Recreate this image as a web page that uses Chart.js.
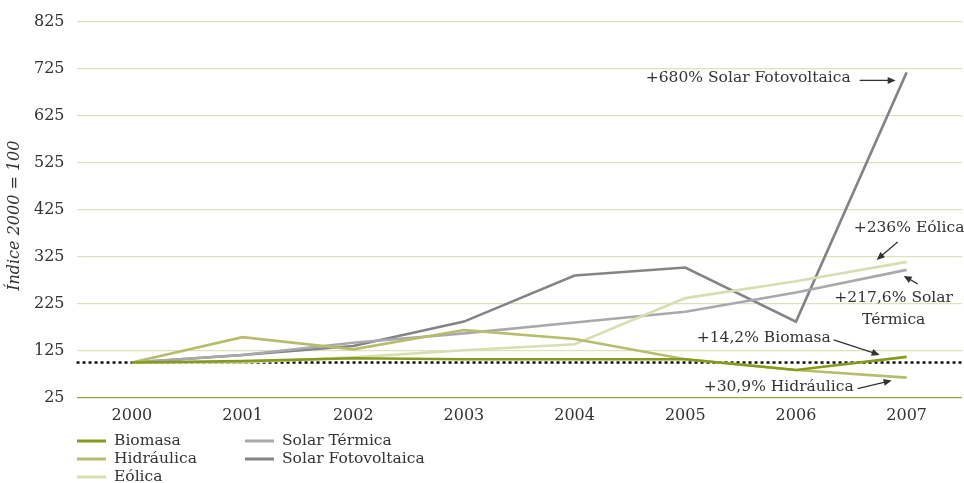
<!DOCTYPE html>
<html>
<head>
<meta charset="utf-8">
<script src="https://cdn.jsdelivr.net/npm/chart.js@4"></script>
<style>
  html, body { margin: 0; padding: 0; background: #fff; }
  #wrap { width: 964px; height: 483px; position: relative; }
</style>
</head>
<body>
<div id="wrap"><canvas id="chart"></canvas></div>
<script>
const years = ["2000", "2001", "2002", "2003", "2004", "2005", "2006", "2007"];

const biomasa = [100, 103, 109, 107, 107, 107, 84, 112];
const hidraulica = [100, 154, 128, 169, 150, 107, 84, 68];
const eolica = [100, 100, 111, 126, 139, 237, 273, 314];
const solarTermica = [100, 116, 142, 162, 185, 208, 249, 297];
const solarFoto = [100, 116, 135, 187, 285, 302, 187, 717];

const yTicks = [25, 125, 225, 325, 425, 525, 625, 725, 825];
const BASELINE = 100;
const yTitle = "Índice 2000 = 100";

const FONT = "'DejaVu Serif', 'Liberation Serif', serif";
const TEXT = "#333333";

const series = [
  { label: "Biomasa", data: biomasa, color: "#879a1c" },
  { label: "Hidráulica", data: hidraulica, color: "#b6bd6c" },
  { label: "Eólica", data: eolica, color: "#d9ddb2" },
  { label: "Solar Térmica", data: solarTermica, color: "#a9a9ad" },
  { label: "Solar Fotovoltaica", data: solarFoto, color: "#848488" }
];

function arrow(ctx, x1, y1, x2, y2) {
  const a = Math.atan2(y2 - y1, x2 - x1);
  const len = 8, w = 3.5;
  ctx.beginPath();
  ctx.moveTo(x1, y1);
  ctx.lineTo(x2 - Math.cos(a) * len * 0.6, y2 - Math.sin(a) * len * 0.6);
  ctx.stroke();
  ctx.beginPath();
  ctx.moveTo(x2, y2);
  ctx.lineTo(x2 - Math.cos(a) * len - Math.sin(a) * w, y2 - Math.sin(a) * len + Math.cos(a) * w);
  ctx.lineTo(x2 - Math.cos(a) * len + Math.sin(a) * w, y2 - Math.sin(a) * len - Math.cos(a) * w);
  ctx.closePath();
  ctx.fill();
}

const extras = {
  id: "extras",
  beforeDatasetsDraw(chart) {
    const { ctx, chartArea, scales } = chart;
    const y = scales.y.getPixelForValue(BASELINE);
    ctx.save();
    ctx.strokeStyle = "#111";
    ctx.lineWidth = 2.5;
    ctx.setLineDash([3, 3]);
    ctx.beginPath();
    ctx.moveTo(chartArea.left, y);
    ctx.lineTo(chartArea.right, y);
    ctx.stroke();
    ctx.restore();
  },
  afterDraw(chart) {
    const { ctx, scales, chartArea } = chart;
    const last = years.length - 1;
    const x7 = scales.x.getPixelForValue(last);
    const py = arr => scales.y.getPixelForValue(arr[last]);

    ctx.save();
    // y axis title
    ctx.font = "italic 16px " + FONT;
    ctx.fillStyle = TEXT;
    ctx.textAlign = "center";
    ctx.textBaseline = "middle";
    ctx.translate(15, (chartArea.top + chartArea.bottom) / 2 + 6);
    ctx.rotate(-Math.PI / 2);
    ctx.fillText(yTitle, 0, 0);
    ctx.restore();

    ctx.save();
    ctx.font = "15.5px " + FONT;
    ctx.fillStyle = TEXT;
    ctx.strokeStyle = TEXT;
    ctx.lineWidth = 1.3;
    ctx.textBaseline = "middle";

    // Solar Fotovoltaica
    let yy = py(solarFoto);
    ctx.textAlign = "right";
    ctx.fillText("+680% Solar Fotovoltaica", x7 - 56, yy + 6);
    arrow(ctx, x7 - 47, yy + 8, x7 - 11, yy + 8);

    // Eólica
    yy = py(eolica);
    ctx.textAlign = "left";
    ctx.fillText("+236% Eólica", x7 - 53, yy - 34);
    arrow(ctx, x7 - 9, yy - 20, x7 - 30, yy - 2);

    // Solar Térmica
    yy = py(solarTermica);
    ctx.textAlign = "center";
    ctx.fillText("+217,6% Solar", x7 - 13, yy + 28);
    ctx.fillText("Térmica", x7 - 13, yy + 50);
    arrow(ctx, x7 + 11, yy + 14, x7 - 3, yy + 6);

    // Biomasa
    yy = py(biomasa);
    ctx.textAlign = "right";
    ctx.fillText("+14,2% Biomasa", x7 - 76, yy - 19);
    arrow(ctx, x7 - 73, yy - 17, x7 - 27, yy - 2);

    // Hidráulica
    yy = py(hidraulica);
    ctx.fillText("+30,9% Hidráulica", x7 - 53, yy + 9);
    arrow(ctx, x7 - 49, yy + 11, x7 - 15, yy + 3);

    // legend in two columns
    const cols = [77, 245];
    const rows = [441, 459, 477];
    ctx.textAlign = "left";
    series.forEach((s, i) => {
      const c = i < 3 ? 0 : 1;
      const r = i < 3 ? i : i - 3;
      const lx = cols[c], ly = rows[r];
      ctx.strokeStyle = s.color;
      ctx.lineWidth = 3;
      ctx.beginPath();
      ctx.moveTo(lx, ly);
      ctx.lineTo(lx + 29, ly);
      ctx.stroke();
      ctx.fillStyle = TEXT;
      ctx.fillText(s.label, lx + 37, ly);
    });
    ctx.restore();
  }
};

new Chart(document.getElementById("chart"), {
  type: "line",
  data: {
    labels: years,
    datasets: series.map(s => ({
      label: s.label,
      data: s.data,
      borderColor: s.color,
      backgroundColor: s.color,
      borderWidth: 2.6,
      pointRadius: 0,
      tension: 0
    }))
  },
  options: {
    responsive: true,
    maintainAspectRatio: false,
    animation: false,
    layout: { padding: { left: 22, right: 2, top: 20, bottom: 50 } },
    plugins: { legend: { display: false }, tooltip: { enabled: false } },
    scales: {
      x: {
        offset: true,
        grid: { display: false, drawTicks: false },
        border: { display: false },
        ticks: { color: TEXT, font: { family: FONT, size: 16 }, padding: 8 }
      },
      y: {
        min: 25,
        max: 825,
        afterBuildTicks: axis => { axis.ticks = yTicks.map(v => ({ value: v })); },
        grid: {
          drawTicks: false,
          lineWidth: 1.3,
          color: c => (c.tick && c.tick.value === 25 ? "#9aa53c" : "#dde2bd")
        },
        border: { display: false },
        ticks: { color: TEXT, font: { family: FONT, size: 16 }, padding: 12 }
      }
    }
  },
  plugins: [extras]
});
</script>
</body>
</html>
